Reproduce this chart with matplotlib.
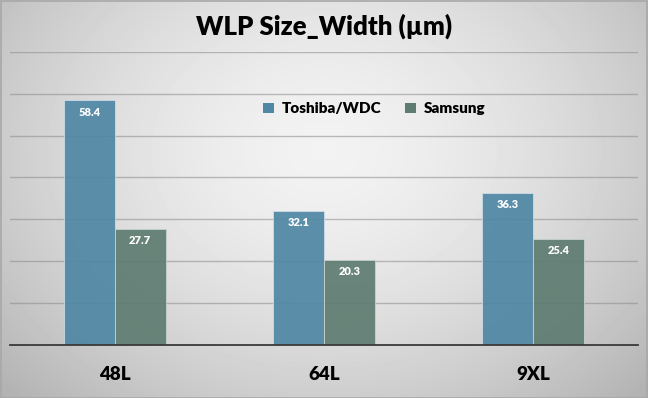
import numpy as np
import matplotlib
matplotlib.use('Agg')
import matplotlib.pyplot as plt
from matplotlib.patches import Patch

categories = ['48L', '64L', '9XL']
toshiba_wdc = [58.4, 32.1, 36.3]
samsung = [27.7, 20.3, 25.4]
series_names = ['Toshiba/WDC', 'Samsung']

blue = '#4f87a4'
green = '#5e7c71'

plt.rcParams['font.family'] = ['Lato', 'DejaVu Sans']

fig = plt.figure(figsize=(6.48, 3.98), dpi=100)

# radial gradient background
bg = fig.add_axes([0, 0, 1, 1], zorder=-10)
yy, xx = np.mgrid[0:398, 0:648]
r = np.sqrt(((xx - 324) / 420.0) ** 2 + ((yy - 150) / 330.0) ** 2)
shade = np.clip(0.95 - 0.23 * r ** 1.6, 0, 1)
bg.imshow(shade, cmap='gray', vmin=0, vmax=1, aspect='auto', extent=[0, 1, 0, 1])
bg.set_axis_off()
fig.patches.append(plt.Rectangle((0.001, 0.001), 0.998, 0.997, transform=fig.transFigure,
                                 fill=False, edgecolor='#a8a8a8', linewidth=1.2))

ax = fig.add_axes([0.0154, 0.1332, 0.9692, 0.7368])
ax.set_facecolor('none')

x = np.arange(len(categories))
w = 0.243
b1 = ax.bar(x - w / 2, toshiba_wdc, w, color=blue, alpha=0.92, edgecolor='#cfe0ea',
            linewidth=0.6, zorder=3)
b2 = ax.bar(x + w / 2, samsung, w, color=green, alpha=0.92, edgecolor='#c9d6d0',
            linewidth=0.6, zorder=3)

# value labels just inside the top of each bar
for rects, vals in [(b1, toshiba_wdc), (b2, samsung)]:
    for rect, v in zip(rects, vals):
        ax.annotate('%.1f' % v, (rect.get_x() + rect.get_width() / 2, v),
                    xytext=(0, -12), textcoords='offset pixels',
                    ha='center', va='center', color='white', fontsize=8,
                    fontweight='heavy', zorder=4)

ax.set_xlim(-0.5, 2.5)
ax.set_ylim(0, 70)
ax.set_yticks(np.arange(10, 71, 10))
ax.yaxis.grid(True, color='#8a8a8a', linewidth=1.0, alpha=0.55, zorder=1)
ax.tick_params(axis='y', left=False, labelleft=False)
ax.tick_params(axis='x', length=0, pad=15)
ax.set_xticks(x)
ax.set_xticklabels(categories, fontsize=13.5, fontweight='heavy')
for side in ['top', 'right', 'left']:
    ax.spines[side].set_visible(False)
ax.spines['bottom'].set_color('#3a3a3a')
ax.spines['bottom'].set_linewidth(1.3)
ax.spines['bottom'].set_zorder(5)

fig.text(0.5, 0.935, 'WLP Size_Width (µm)', ha='center', va='center',
         fontsize=18.5, fontweight='heavy')

handles = [Patch(facecolor=blue), Patch(facecolor=green)]
ax.legend(handles, series_names, loc='center', bbox_to_anchor=(0.58, 0.805), ncol=2,
          frameon=False, handlelength=0.7, handleheight=0.7, handletextpad=0.5,
          columnspacing=1.6, prop={'size': 11, 'weight': 'heavy'})

fig.savefig('out.png', dpi=100)
